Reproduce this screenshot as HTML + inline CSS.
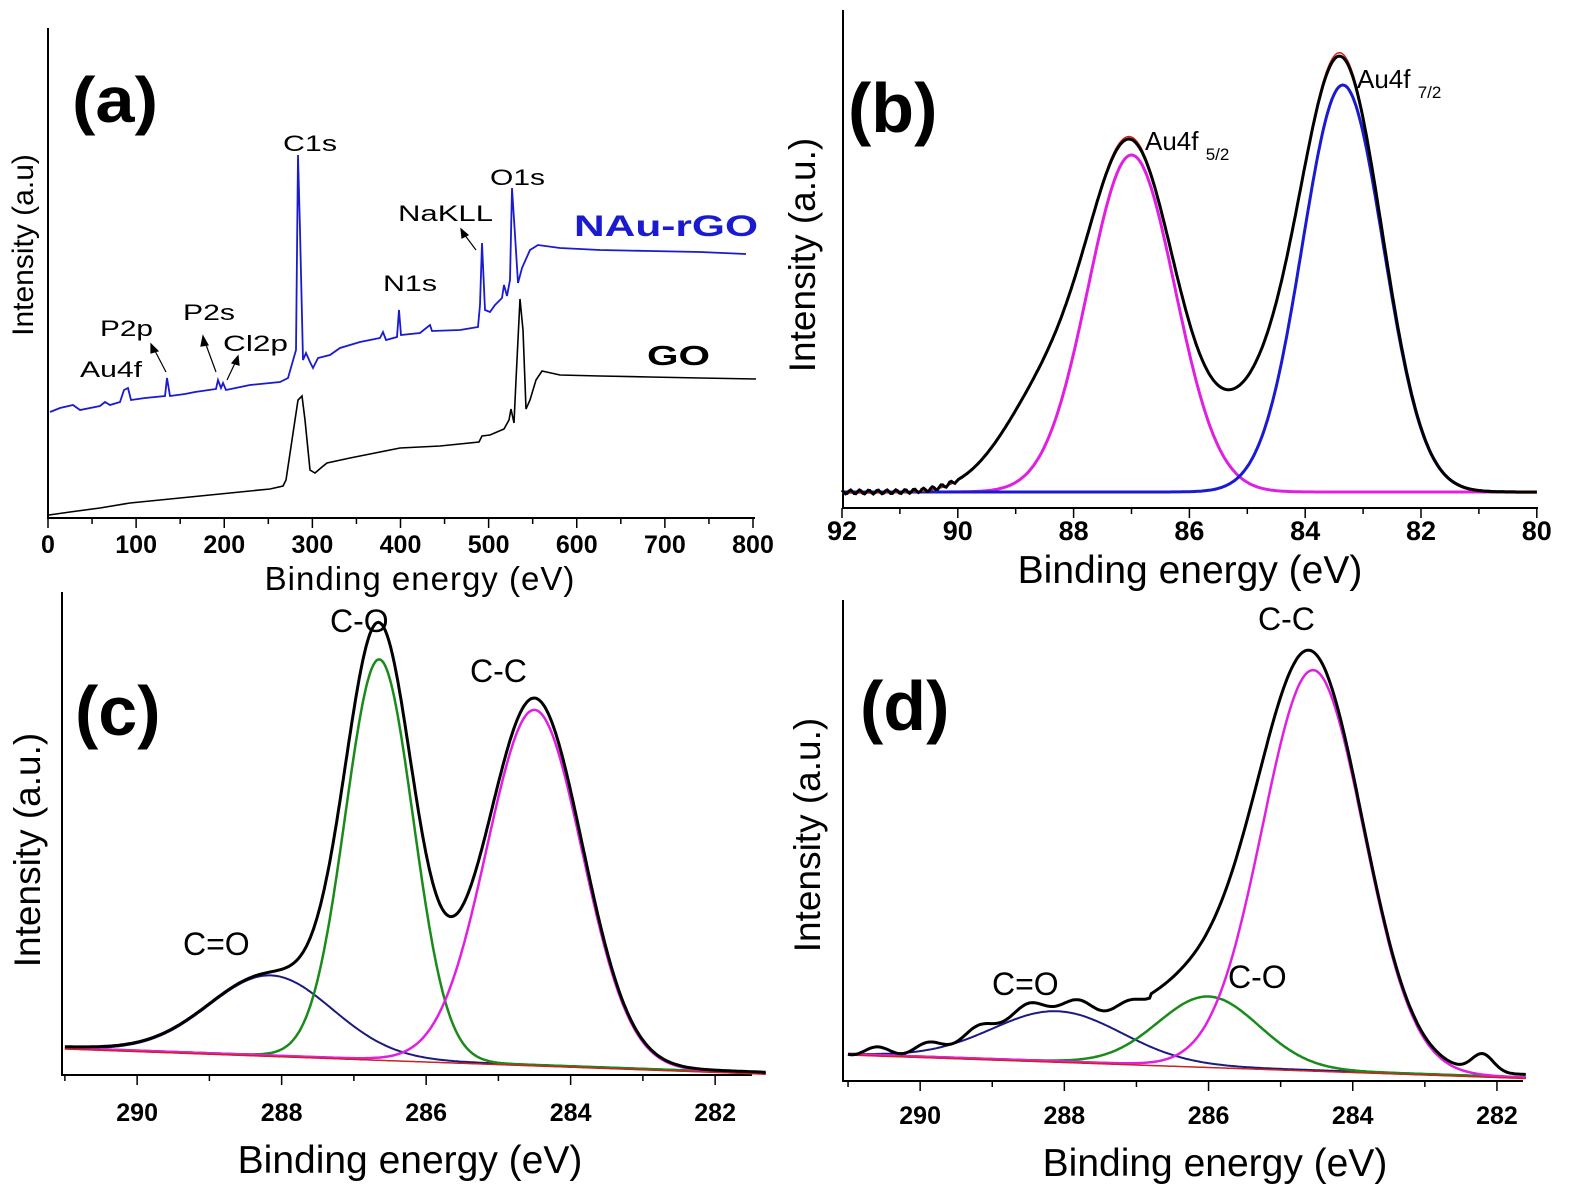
<!DOCTYPE html>
<html><head><meta charset="utf-8"><style>
body{margin:0;background:#fff}
svg{display:block}
text{font-family:"Liberation Sans",sans-serif}
.tk{font-weight:bold;font-size:25px}
</style></head><body>
<svg id="s" width="1575" height="1193" viewBox="0 0 1575 1193" xmlns="http://www.w3.org/2000/svg">
<g stroke="#000" stroke-width="2" fill="none">
<line x1="48" y1="28" x2="48" y2="519"/><line x1="47" y1="518" x2="755" y2="518"/>
<line x1="843" y1="10" x2="843" y2="509"/><line x1="842" y1="508" x2="1538" y2="508"/>
<line x1="62" y1="592" x2="62" y2="1076"/><line x1="61" y1="1075" x2="752" y2="1075"/>
<line x1="843" y1="600" x2="843" y2="1082"/><line x1="842" y1="1081" x2="1523" y2="1081"/>
</g>
<g id="ticks" stroke="#000" stroke-width="1.5"></g>
<polyline fill="none" stroke="#000" stroke-width="1.6" points="49,515 70,512 100,508 130,503 160,500 200,496 240,492 270,489 283,486 286,480 298,400 302,396 305,420 310,470 315,473 322,467 327,463 350,458 380,452 400,448 440,446 479,442 482,436 490,435 504,429 509,420 511,409 514,423 516,380 520,299 523,330 526,409 530,400 536,380 542,371 560,375 600,376 650,377 700,378 756,379"/>
<polyline fill="none" stroke="#1a1ad0" stroke-width="1.8" points="50,412 60,408 73,405 80,410 100,406 105,402 110,405 120,402 124,390 128,388 131,400 145,398 165,396 167,378 170,396 185,394 195,392 216,389 218,380 221,388 223,383 226,390 250,385 280,382 288,378 296,350 298,155 300,230 303,360 306,353 310,362 313,368 318,358 330,355 340,348 350,345 360,342 380,338 383,332 386,340 397,337 399,310 401,335 420,333 430,325 432,331 460,330 478,327 480,305 482,243 485,310 490,312 495,305 502,298 504,285 507,296 510,280 512,188 515,235 518,283 522,268 530,250 538,245 560,248 600,250 650,251 700,252 746,254"/>
<g font-size="22">
<text x="283" y="151" textLength="54" lengthAdjust="spacingAndGlyphs">C1s</text><text x="490" y="185" textLength="55" lengthAdjust="spacingAndGlyphs">O1s</text><text x="398" y="221" textLength="95" lengthAdjust="spacingAndGlyphs">NaKLL</text>
<text x="383" y="291" textLength="54" lengthAdjust="spacingAndGlyphs">N1s</text><text x="183" y="320" textLength="52" lengthAdjust="spacingAndGlyphs">P2s</text><text x="100" y="336" textLength="53" lengthAdjust="spacingAndGlyphs">P2p</text>
<text x="223" y="351" textLength="65" lengthAdjust="spacingAndGlyphs">Cl2p</text><text x="80" y="377" textLength="62" lengthAdjust="spacingAndGlyphs">Au4f</text>
</g>
<g stroke="#000" stroke-width="1.2" fill="#000">
<line x1="476" y1="250" x2="464" y2="234"/><polygon points="461,229 468,235 462,238"/>
<line x1="216" y1="372" x2="205" y2="342"/><polygon points="203,336 208,345 201,346"/>
<line x1="227" y1="380" x2="236" y2="361"/><polygon points="238,356 239,365 232,363"/>
<line x1="166" y1="372" x2="154" y2="349"/><polygon points="151,344 158,351 151,353"/>
</g>
<text x="574" y="236" font-size="30" font-weight="bold" fill="#1a1ad0" textLength="184" lengthAdjust="spacingAndGlyphs">NAu-rGO</text>
<text x="647" y="365" font-size="28" font-weight="bold" textLength="63" lengthAdjust="spacingAndGlyphs">GO</text>
<text x="72" y="122" font-size="64" font-weight="bold" textLength="86" lengthAdjust="spacingAndGlyphs">(a)</text>
<text transform="translate(33,245) rotate(-90)" font-size="30" text-anchor="middle">Intensity (a.u)</text>
<text x="420" y="590" font-size="33" text-anchor="middle" letter-spacing="1">Binding energy (eV)</text>
<text x="848" y="132" font-size="70" font-weight="bold">(b)</text>
<text transform="translate(815,255) rotate(-90)" font-size="37" text-anchor="middle">Intensity (a.u.)</text>
<text x="1190" y="583" font-size="39" text-anchor="middle">Binding energy (eV)</text>
<text x="1145" y="150" font-size="26">Au4f <tspan font-size="17" dy="10">5/2</tspan></text>
<text x="1357" y="88" font-size="26">Au4f <tspan font-size="17" dy="10">7/2</tspan></text>
<g id="pb"></g>
<text x="75" y="735" font-size="70" font-weight="bold">(c)</text>
<text transform="translate(40,850) rotate(-90)" font-size="37" text-anchor="middle">Intensity (a.u.)</text>
<text x="410" y="1173" font-size="39" text-anchor="middle">Binding energy (eV)</text>
<text x="330" y="632" font-size="32">C-O</text><text x="470" y="682" font-size="32">C-C</text><text x="183" y="955" font-size="32">C=O</text>
<g id="pc"></g>
<text x="860" y="730" font-size="70" font-weight="bold">(d)</text>
<text transform="translate(820,835) rotate(-90)" font-size="37" text-anchor="middle">Intensity (a.u.)</text>
<text x="1215" y="1176" font-size="39" text-anchor="middle">Binding energy (eV)</text>
<text x="1258" y="630" font-size="32">C-C</text><text x="1228" y="988" font-size="32">C-O</text><text x="992" y="995" font-size="32">C=O</text>
<g id="pd"></g>
<g id="lbl" class="tk" text-anchor="middle"></g>
</svg>
<script>
var NS="http://www.w3.org/2000/svg";
function el(p,t,a,txt){var e=document.createElementNS(NS,t);for(var k in a)e.setAttribute(k,a[k]);if(txt!=null)e.textContent=txt;document.getElementById(p).appendChild(e);return e;}
function G(e,c,a,s){return a*Math.exp(-Math.pow((e-c)/s,2)/2);}
function path(p,f,e0,e1,xf,col,w){var d="";for(var i=0;i<=400;i++){var e=e0+(e1-e0)*i/400;var x=xf(e),y=f(e);d+=(i?"L":"M")+x.toFixed(1)+","+y.toFixed(1);}el(p,"path",{d:d,fill:"none",stroke:col,"stroke-width":w});}
for(var v=0;v<=800;v+=50){var x=48+v*0.88125;el("ticks","line",{x1:x,y1:518,x2:x,y2:v%100?524:528});if(v%100==0)el("lbl","text",{x:x,y:553},v);}
function xb(e){return 842+(92-e)*57.9;}
for(var v=92;v>=80;v-=1){var x=xb(v);el("ticks","line",{x1:x,y1:508,x2:x,y2:v%2?514:518});if(v%2==0)el("lbl","text",{x:x,y:540,style:"font-size:27px"},v);}
var bb=492;
function mg(e){return G(e,87.0,337,0.75);}function bl(e){return G(e,83.35,407,0.7);}
function tot(e){return mg(e)+bl(e)+G(e,88.5,90,0.75)+G(e,84.7,85,0.9);}
path("pb",function(e){return bb-mg(e);},92,80,xb,"#e020e0",3);
path("pb",function(e){return bb-bl(e);},92,80,xb,"#1a1ad0",3);
path("pb",function(e){return bb-tot(e)*1.01+1;},92,80,xb,"#d02020",1.5);
path("pb",function(e){return bb-tot(e)+2*Math.sin(e*40)*(e>90?1:0);},92,80,xb,"#000",3);
function xc(e){return 62+(291.04-e)*72.25;}
for(var v=291;v>=281.5;v-=1){var x=xc(v);el("ticks","line",{x1:x,y1:1075,x2:x,y2:v%2?1081:1085});if(v%2==0)el("lbl","text",{x:x,y:1121},v);}
function bc(e){return 1048+(291-e)*2.6;}
function gc(e){return G(e,286.65,400,0.47);}function mc(e){return G(e,284.5,355,0.66);}function nc(e){return G(e,288.15,80,0.85);}
path("pc",function(e){return bc(e)-nc(e);},291,281.3,xc,"#1a1a80",2);
path("pc",function(e){return bc(e)-gc(e);},291,281.3,xc,"#1a8a1a",2.5);
path("pc",function(e){return bc(e)-mc(e);},291,281.3,xc,"#e020e0",2.5);
path("pc",function(e){return bc(e)+1;},291,281.3,xc,"#d02020",1.5);
path("pc",function(e){return bc(e)-1-(nc(e)+gc(e)*1.04+mc(e)*1.03+G(e,285.7,20,0.4));},291,281.3,xc,"#000",3);
function xd(e){return 843+(291.07-e)*72.1;}
for(var v=291;v>=282;v-=1){var x=xd(v);el("ticks","line",{x1:x,y1:1081,x2:x,y2:v%2?1087:1091});if(v%2==0)el("lbl","text",{x:x,y:1124},v);}
function bd(e){return 1054+(291-e)*2.5;}
function md(e){return G(e,284.55,400,0.7);}function gd(e){return G(e,286.0,70,0.7);}function nd(e){return G(e,288.1,50,0.9);}
path("pd",function(e){return bd(e)-nd(e);},291,281.6,xd,"#1a1a80",2);
path("pd",function(e){return bd(e)-gd(e);},291,281.6,xd,"#1a8a1a",2.5);
path("pd",function(e){return bd(e)-md(e);},291,281.6,xd,"#e020e0",2.5);
path("pd",function(e){return bd(e)+1;},291,281.6,xd,"#d02020",1.5);
path("pd",function(e){return bd(e)-3-(nd(e)*1.1+gd(e)+md(e)+G(e,285.3,22,0.5)+G(e,286.6,10,0.5)+G(e,282.2,18,0.15)+4*Math.sin(e*9)*(e>286.8?1:0));},291,281.6,xd,"#000",3);
</script>
</body></html>
